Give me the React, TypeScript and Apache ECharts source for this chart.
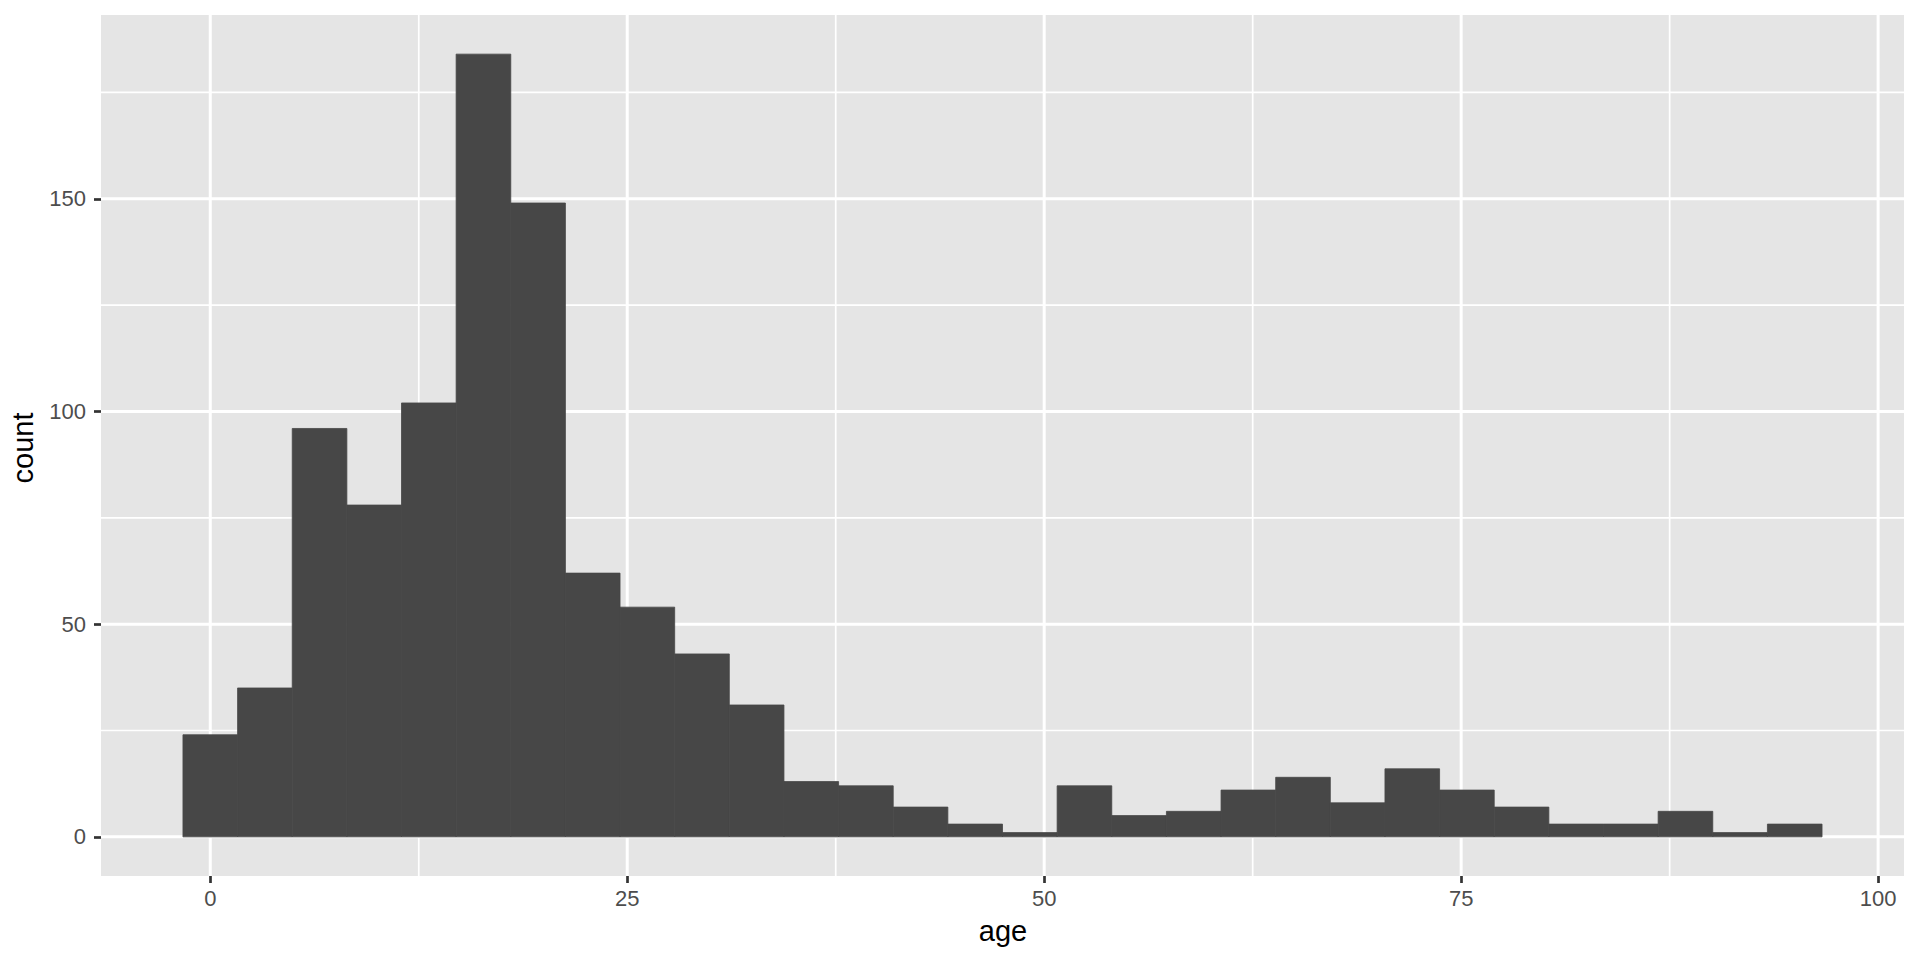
import React, { useEffect, useRef } from "react";
import * as echarts from "echarts";

// Histogram bins (ggplot2 default: 30 bins across ages 0..95)
const binWidth = 95 / 29;
const firstBinCenter = 0;
const counts = [24, 35, 96, 78, 102, 184, 149, 62, 54, 43, 31, 13, 12, 7, 3, 1, 12, 5, 6, 11, 14, 8, 16, 11, 7, 3, 3, 6, 1, 3];

const xTicks = [0, 25, 50, 75, 100];
const xMinor = [12.5, 37.5, 62.5, 87.5];
const yTicks = [0, 50, 100, 150];
const yMinor = [25, 75, 125, 175];

const xTitle = "age";
const yTitle = "count";

const FONT = "'Liberation Sans', Arial, Helvetica, sans-serif";

export default function App() {
  const ref = useRef<HTMLDivElement>(null);

  useEffect(() => {
    document.body.style.margin = "0";
    if (!ref.current) return;
    const chart = echarts.init(ref.current, undefined, { renderer: "svg" });

    const bins = counts.map((c, i) => {
      const center = firstBinCenter + i * binWidth;
      return [center - binWidth / 2, center + binWidth / 2, c];
    });
    const dataMin = bins[0][0];
    const dataMax = bins[bins.length - 1][1];
    const xPad = (dataMax - dataMin) * 0.05;
    const yMax = Math.max(...counts);
    const yPad = yMax * 0.05;

    const vLines = (vals: number[], width: number) => ({
      type: "custom",
      silent: true,
      z: 1,
      data: vals.map((v) => [v, 0]),
      renderItem: (params: any, api: any) => {
        const cs = params.coordSys;
        const p = api.coord([api.value(0), 0]);
        return {
          type: "line",
          shape: { x1: p[0], y1: cs.y, x2: p[0], y2: cs.y + cs.height },
          style: { stroke: "#FFFFFF", lineWidth: width },
        };
      },
    });
    const hLines = (vals: number[], width: number) => ({
      type: "custom",
      silent: true,
      z: 1,
      data: vals.map((v) => [0, v]),
      renderItem: (params: any, api: any) => {
        const cs = params.coordSys;
        const p = api.coord([0, api.value(1)]);
        return {
          type: "line",
          shape: { x1: cs.x, y1: p[1], x2: cs.x + cs.width, y2: p[1] },
          style: { stroke: "#FFFFFF", lineWidth: width },
        };
      },
    });

    chart.setOption({
      animation: false,
      grid: {
        left: 101,
        top: 15,
        width: 1803,
        height: 861,
        show: true,
        backgroundColor: "#E5E5E5",
        borderWidth: 0,
      },
      xAxis: {
        type: "value",
        min: dataMin - xPad,
        max: dataMax + xPad,
        axisLine: { show: false, onZero: false },
        splitLine: { show: false },
        axisTick: {
          show: true,
          customValues: xTicks,
          length: 7,
          lineStyle: { color: "#333333", width: 2.7 },
        },
        axisLabel: {
          customValues: xTicks,
          margin: 11,
          color: "#4D4D4D",
          fontSize: 22,
          fontFamily: FONT,
        },
      },
      yAxis: {
        type: "value",
        min: -yPad,
        max: yMax + yPad,
        axisLine: { show: false, onZero: false },
        splitLine: { show: false },
        axisTick: {
          show: true,
          customValues: yTicks,
          length: 7,
          lineStyle: { color: "#333333", width: 2.7 },
        },
        axisLabel: {
          customValues: yTicks,
          margin: 15,
          color: "#4D4D4D",
          fontSize: 22,
          fontFamily: FONT,
        },
      },
      graphic: [
        {
          type: "text",
          x: 1003,
          y: 931,
          style: {
            text: xTitle,
            fontSize: 29,
            fontFamily: FONT,
            fill: "#000000",
            textAlign: "center",
            textVerticalAlign: "middle",
          },
        },
        {
          type: "text",
          x: 23,
          y: 448,
          rotation: Math.PI / 2,
          style: {
            text: yTitle,
            fontSize: 29,
            fontFamily: FONT,
            fill: "#000000",
            textAlign: "center",
            textVerticalAlign: "middle",
          },
        },
      ],
      series: [
        vLines(xMinor, 1.7),
        hLines(yMinor, 1.7),
        vLines(xTicks, 3),
        hLines(yTicks, 3),
        {
          type: "custom",
          z: 2,
          data: bins,
          encode: { x: [0, 1], y: 2 },
          renderItem: (params: any, api: any) => {
            const p0 = api.coord([api.value(0), 0]);
            const p1 = api.coord([api.value(1), api.value(2)]);
            return {
              type: "rect",
              shape: { x: p0[0], y: p1[1], width: p1[0] - p0[0], height: p0[1] - p1[1] },
              style: { fill: "#474747", stroke: "#474747", lineWidth: 0.8 },
            };
          },
        },
      ],
    });

    return () => chart.dispose();
  }, []);

  return <div ref={ref} style={{ width: 1920, height: 960 }} />;
}
